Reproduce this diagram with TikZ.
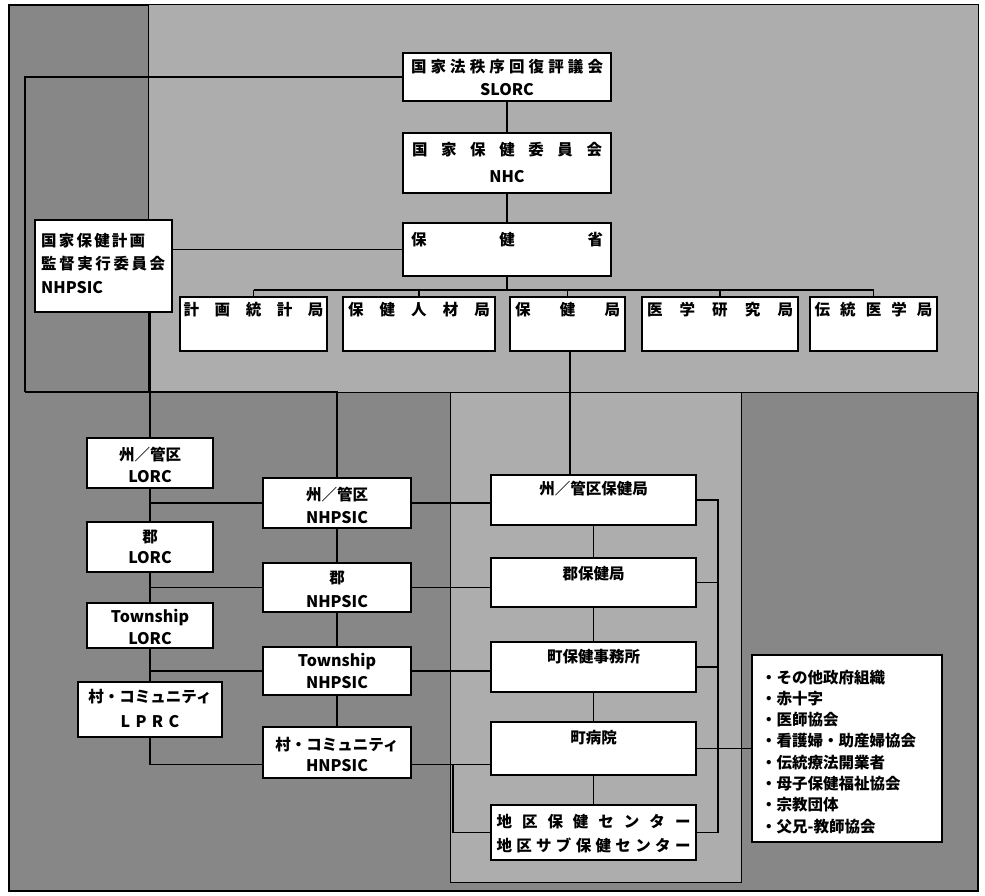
\documentclass[tikz,border=0pt]{standalone}
\usepackage{fontspec}
\newfontfamily\jp{Noto Sans CJK JP}
\usetikzlibrary{calc}
\ExplSyntaxOn
\NewDocumentCommand\spr{mm}{\makebox[#1]{\seq_clear:N \l_tmpa_seq \tl_map_inline:nn {#2}{\seq_put_right:Nn \l_tmpa_seq {##1}}\seq_use:Nn \l_tmpa_seq {\hfill}}}
\ExplSyntaxOff
\tikzset{
  box/.style={draw, line width=1.6pt, fill=white, inner sep=0pt},
  cj/.style={font={\jp\bfseries\fontsize{15.5}{17}\selectfont}, inner sep=0pt},
  lt/.style={font={\jp\bfseries\fontsize{16}{18}\selectfont}, inner sep=0pt},
  conn/.style={draw, line width=1.1pt},
  region/.style={draw=black, line width=1pt}
}
\begin{document}
\begin{tikzpicture}[x=1pt,y=-1pt]
\useasboundingbox (0,0) rectangle (985,896);
% background regions
\fill[white] (0,0) rectangle (985,896);
\filldraw[fill=black!47, draw=black, line width=1.5pt] (9,5) rectangle (978,891);
\filldraw[region, fill=black!32] (148,5) rectangle (978,392);
\filldraw[region, fill=black!32] (450,392) rectangle (741,882);

% national level
\node[box, minimum width=208pt, minimum height=48pt] (slorc) at (507,77) {};
\node[box, minimum width=208pt, minimum height=60pt] (nhc) at (507,163) {};
\node[box, minimum width=208pt, minimum height=53pt] (moh) at (507,249.5) {};
\node[box, minimum width=137pt, minimum height=92pt] (np) at (103.5,266) {};
\node[box, minimum width=147pt, minimum height=54pt] (b1) at (253.5,324) {};
\node[box, minimum width=152pt, minimum height=54pt] (b2) at (419,324) {};
\node[box, minimum width=115pt, minimum height=54pt] (b3) at (567.5,324) {};
\node[box, minimum width=156pt, minimum height=54pt] (b4) at (720,324) {};
\node[box, minimum width=127pt, minimum height=54pt] (b5) at (873.5,324) {};

% LORC column
\node[box, minimum width=126pt, minimum height=50pt] (l1) at (150,463) {};
\node[box, minimum width=126pt, minimum height=50pt] (l2) at (150,547) {};
\node[box, minimum width=126pt, minimum height=45pt] (l3) at (150,625.5) {};
\node[box, minimum width=144pt, minimum height=55pt] (l4) at (150,709.5) {};

% NHPSIC column
\node[box, minimum width=148pt, minimum height=50pt] (n1) at (337,503) {};
\node[box, minimum width=148pt, minimum height=49pt] (n2) at (337,587.5) {};
\node[box, minimum width=148pt, minimum height=48pt] (n3) at (337,671) {};
\node[box, minimum width=148pt, minimum height=51pt] (n4) at (337,752.5) {};

% health offices column
\node[box, minimum width=205pt, minimum height=50pt] (h1) at (593.5,500) {};
\node[box, minimum width=205pt, minimum height=49pt] (h2) at (593.5,582.5) {};
\node[box, minimum width=205pt, minimum height=50pt] (h3) at (593.5,667) {};
\node[box, minimum width=205pt, minimum height=53pt] (h4) at (593.5,748.5) {};
\node[box, minimum width=205pt, minimum height=55pt] (h5) at (593.5,832.5) {};

% list box
\node[box, minimum width=190pt, minimum height=187pt] (lst) at (847,748.5) {};

% helper coordinates
\coordinate (lft) at (25,392);
\coordinate (ncol) at (337,392);
\coordinate (bus) at (0,290);
\coordinate (hx) at (570,0);
\coordinate (bx) at (718,0);
\coordinate (mx) at (453,0);

% national connectors
\draw[conn] (slorc.south) -- (nhc.north);
\draw[conn] (nhc.south) -- (moh.north);
\draw[conn] (moh.south) -- (moh.south |- bus);
\draw[conn] (b1.north |- bus) -- (b5.north |- bus);
\foreach \b in {b1,b2,b3,b4,b5} \draw[conn] (\b.north |- bus) -- (\b.north);
\draw[conn] (moh.west) -- (moh.west -| np.east);
\draw[conn] (slorc.west) -| (lft);
\draw[conn] (lft) -- (ncol) -- (n1.north);
\draw[conn] (np.south -| l1.north) -- (l1.north);
\draw[conn] (b3.south -| hx) -- (h1.north -| hx);

% LORC chain
\draw[conn] (l1.south) -- (l2.north);
\draw[conn] (l2.south) -- (l3.north);
\draw[conn] (l3.south) -- (l4.north);
\draw[conn] (l4.south) |- ([yshift=-12pt]n4.west);
\draw[conn] (n1.west -| l1.south) -- (n1.west);
\draw[conn] (n2.west -| l1.south) -- (n2.west);
\draw[conn] (n3.west -| l1.south) -- (n3.west);

% NHPSIC chain
\draw[conn] (n1.south) -- (n2.north);
\draw[conn] (n2.south) -- (n3.north);
\draw[conn] (n3.south) -- (n4.north);
\draw[conn] (n1.east) -- (n1.east -| h1.west);
\draw[conn] (n2.east) -- (n2.east -| h2.west);
\draw[conn] (n3.east) -- (n3.east -| h3.west);
\draw[conn] ([yshift=-12pt]n4.east) -- ([yshift=-12pt]n4.east -| h4.west);
\draw[conn] ([yshift=-12pt]n4.east -| mx) |- (h5.west);

% health chain
\draw[conn] (h1.south) -- (h2.north);
\draw[conn] (h2.south) -- (h3.north);
\draw[conn] (h3.south) -- (h4.north);
\draw[conn] (h4.south) -- (h5.north);
\draw[conn] (h1.east) -| (h5.east -| bx);
\draw[conn] (h2.east) -- (h2.east -| bx);
\draw[conn] (h3.east) -- (h3.east -| bx);
\draw[conn] (h4.east) -- (h4.east -| bx);
\draw[conn] (h5.east) -- (h5.east -| bx);
\draw[conn] (lst.west -| bx) -- (lst.west);

% texts: national
\node[cj] (t1) at (507,67) {\spr{192pt}{国家法秩序回復評議会}};
\node[lt] (t2) at (507,90) {SLORC};
\node[cj] (t3) at (507,150) {\spr{190pt}{国家保健委員会}};
\node[lt] (t4) at (507,177) {NHC};
\node[cj] (t5) at (507,240) {\spr{192pt}{保健省}};
\node[cj] (t6) at (253.5,310) {\spr{140pt}{計画統計局}};
\node[cj] (t7) at (419,310) {\spr{142pt}{保健人材局}};
\node[cj] (t8) at (567.5,310) {\spr{105pt}{保健局}};
\node[cj] (t9) at (720,310) {\spr{146pt}{医学研究局}};
\node[cj] (t10) at (873.5,310) {\spr{118pt}{伝統医学局}};
\node[cj, anchor=west] (t11) at (41,241) {\spr{104pt}{国家保健計画}};
\node[cj, anchor=west] (t12) at (41,264) {\spr{124pt}{監督実行委員会}};
\node[lt, anchor=west] (t13) at (41,288) {NHPSIC};

% texts: LORC
\node[cj] (t14) at (150,455) {州／管区};
\node[lt] (t15) at (150,477) {LORC};
\node[cj] (t16) at (150,537) {郡};
\node[lt] (t17) at (150,558) {LORC};
\node[lt] (t18) at (150,618) {Township};
\node[lt] (t19) at (150,639) {LORC};
\node[cj] (t20) at (150,697) {村・コミュニティ};
\node[lt] (t21) at (150,722) {L\,\,P\,\,R\,\,C};

% texts: NHPSIC
\node[cj] (t22) at (337,495) {州／管区};
\node[lt] (t23) at (337,518) {NHPSIC};
\node[cj] (t24) at (337,578) {郡};
\node[lt] (t25) at (337,602) {NHPSIC};
\node[lt] (t26) at (337,662) {Township};
\node[lt] (t27) at (337,683) {NHPSIC};
\node[cj] (t28) at (337,745) {村・コミュニティ};
\node[lt] (t29) at (337,766) {HNPSIC};

% texts: health
\node[cj] (t30) at (593.5,489) {州／管区保健局};
\node[cj] (t31) at (593.5,574) {郡保健局};
\node[cj] (t32) at (593.5,657) {町保健事務所};
\node[cj] (t33) at (593.5,738) {町病院};
\node[cj] (t34) at (593.5,822) {\spr{194pt}{地区保健センター}};
\node[cj] (t35) at (593.5,845) {\spr{194pt}{地区サブ保健センター}};

% list
\node[cj, anchor=west] (u1) at (761,678) {・その他政府組織};
\node[cj, anchor=west] (u2) at (761,699) {・赤十字};
\node[cj, anchor=west] (u3) at (761,720) {・医師協会};
\node[cj, anchor=west] (u4) at (761,741) {・看護婦・助産婦協会};
\node[cj, anchor=west] (u5) at (761,763) {・伝統療法開業者};
\node[cj, anchor=west] (u6) at (761,784) {・母子保健福祉協会};
\node[cj, anchor=west] (u7) at (761,805) {・宗教団体};
\node[cj, anchor=west] (u8) at (761,827) {・父兄-教師協会};
\end{tikzpicture}
\end{document}
